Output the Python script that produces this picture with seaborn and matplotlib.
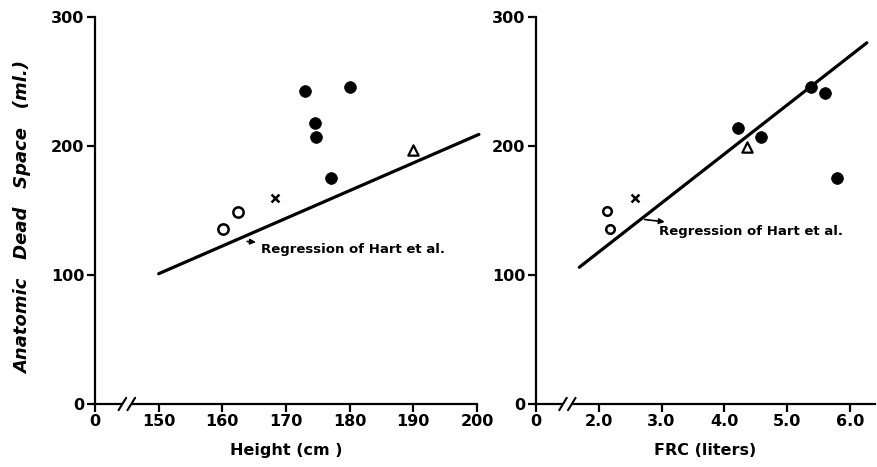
import matplotlib
matplotlib.use("Agg")
import matplotlib.pyplot as plt
import seaborn as sns

# ---------------- data ----------------
# Left panel: Height (cm) vs anatomic dead space (ml)
height_open = [160.1, 162.5]
ds_h_open = [136, 149]
height_cross = [168.2]
ds_h_cross = [160]
height_filled = [173.0, 174.6, 174.7, 177.0, 180.0]
ds_h_filled = [243, 218, 207, 175, 246]
height_tri = [190.0]
ds_h_tri = [197]
height_reg = [150.0, 200.3]
ds_h_reg = [101, 209]

# Right panel: FRC (liters) vs anatomic dead space (ml)
frc_open = [2.13, 2.18]
ds_f_open = [150, 136]
frc_cross = [2.57]
ds_f_cross = [160]
frc_filled = [4.22, 4.59, 5.38, 5.60, 5.79]
ds_f_filled = [214, 207, 246, 241, 175]
frc_tri = [4.36]
ds_f_tri = [199]
frc_reg = [1.69, 6.27]
ds_f_reg = [106, 280]

y_ticks = [0, 100, 200, 300]
height_ticks = [140, 150, 160, 170, 180, 190, 200]
height_ticklabels = ["0", "150", "160", "170", "180", "190", "200"]
frc_ticks = [1.0, 2.0, 3.0, 4.0, 5.0, 6.0]
frc_ticklabels = ["0", "2.0", "3.0", "4.0", "5.0", "6.0"]

ylabel = "Anatomic   Dead   Space   (ml.)"
annot = "Regression of Hart et al."

# ---------------- style ----------------
sns.set_style("ticks")
plt.rcParams["font.family"] = ["DejaVu Sans"]
plt.rcParams["text.color"] = "black"
plt.rcParams["axes.labelcolor"] = "black"
plt.rcParams["xtick.color"] = "black"
plt.rcParams["ytick.color"] = "black"
plt.rcParams["axes.edgecolor"] = "black"
plt.rcParams["axes.linewidth"] = 1.6
plt.rcParams["xtick.major.width"] = 1.6
plt.rcParams["ytick.major.width"] = 1.6
plt.rcParams["xtick.major.size"] = 5.5
plt.rcParams["ytick.major.size"] = 5.5

fig = plt.figure(figsize=(8.77, 4.67), dpi=100)
ax1 = fig.add_axes([95 / 877, 1 - 404 / 467, (477 - 95) / 877, (404 - 17) / 467])
ax2 = fig.add_axes([536 / 877, 1 - 404 / 467, (875 - 536) / 877, (404 - 17) / 467])


def draw_panel(ax, xo, yo, xx, yx, xf, yf, xt, yt, xr, yr, open_size):
    sns.scatterplot(x=xo, y=yo, ax=ax, marker="o", s=open_size, facecolor="white",
                    edgecolor="black", linewidth=1.8, zorder=4, clip_on=False)
    sns.scatterplot(x=xx, y=yx, ax=ax, marker="x", s=32, color="black",
                    linewidth=1.8, zorder=4, clip_on=False)
    sns.scatterplot(x=xf, y=yf, ax=ax, marker="o", s=72, color="black",
                    edgecolor="black", linewidth=0.5, zorder=4, clip_on=False)
    sns.scatterplot(x=xt, y=yt, ax=ax, marker="^", s=55, facecolor="white",
                    edgecolor="black", linewidth=1.6, zorder=4, clip_on=False)
    sns.lineplot(x=xr, y=yr, ax=ax, color="black", linewidth=2.3, zorder=3,
                 clip_on=False)


draw_panel(ax1, height_open, ds_h_open, height_cross, ds_h_cross,
           height_filled, ds_h_filled, height_tri, ds_h_tri,
           height_reg, ds_h_reg, 55)
draw_panel(ax2, frc_open, ds_f_open, frc_cross, ds_f_cross,
           frc_filled, ds_f_filled, frc_tri, ds_f_tri,
           frc_reg, ds_f_reg, 38)

ax1.set_xlim(140, 200)
ax2.set_xlim(1.0, 6.4)
for ax in (ax1, ax2):
    ax.set_ylim(0, 300)
    ax.set_yticks(y_ticks)
    ax.set_yticklabels([str(v) for v in y_ticks])
    sns.despine(ax=ax)
    ax.tick_params(axis="both", labelsize=11.5, colors="black", pad=2)
    ax.set_xlabel("")
    ax.set_ylabel("")

ax1.set_xticks(height_ticks)
ax1.set_xticklabels(height_ticklabels)
ax2.set_xticks(frc_ticks)
ax2.set_xticklabels(frc_ticklabels)
for ax in (ax1, ax2):
    for lab in ax.get_xticklabels() + ax.get_yticklabels():
        lab.set_fontweight("bold")

ax1.set_xlabel("Height (cm )", fontsize=11.5, fontweight="bold", labelpad=10)
ax2.set_xlabel("FRC (liters)", fontsize=11.5, fontweight="bold", labelpad=10)
fig.text(23 / 877, 1 - 218 / 467, ylabel, rotation=90, ha="center", va="center",
         fontsize=13, fontweight="bold", fontstyle="italic")


def axis_break(ax, xa, xb, dx):
    tr = ax.get_xaxis_transform()
    ax.plot([xa, xb], [0, 0], transform=tr, color="white", linewidth=3,
            clip_on=False, zorder=5, solid_capstyle="butt")
    for xc in (xa, xb):
        ax.plot([xc - dx, xc + dx], [-0.016, 0.016], transform=tr, color="black",
                linewidth=1.5, clip_on=False, zorder=6)


axis_break(ax1, 144.3, 145.7, 0.6)
axis_break(ax2, 1.43, 1.57, 0.06)

ax1.annotate(annot, xy=(163.9, 126), xytext=(166.0, 119.5), fontsize=9.5,
             fontweight="bold", ha="left", va="center",
             arrowprops=dict(arrowstyle="<|-", color="black", lw=1.2,
                             shrinkA=1, shrinkB=0, mutation_scale=8))
ax2.annotate(annot, xy=(2.73, 143), xytext=(2.96, 133.5), fontsize=9.5,
             fontweight="bold", ha="left", va="center",
             arrowprops=dict(arrowstyle="<|-", color="black", lw=1.2,
                             shrinkA=1, shrinkB=0, mutation_scale=8))

fig.savefig("out.png", dpi=100, facecolor="white")
